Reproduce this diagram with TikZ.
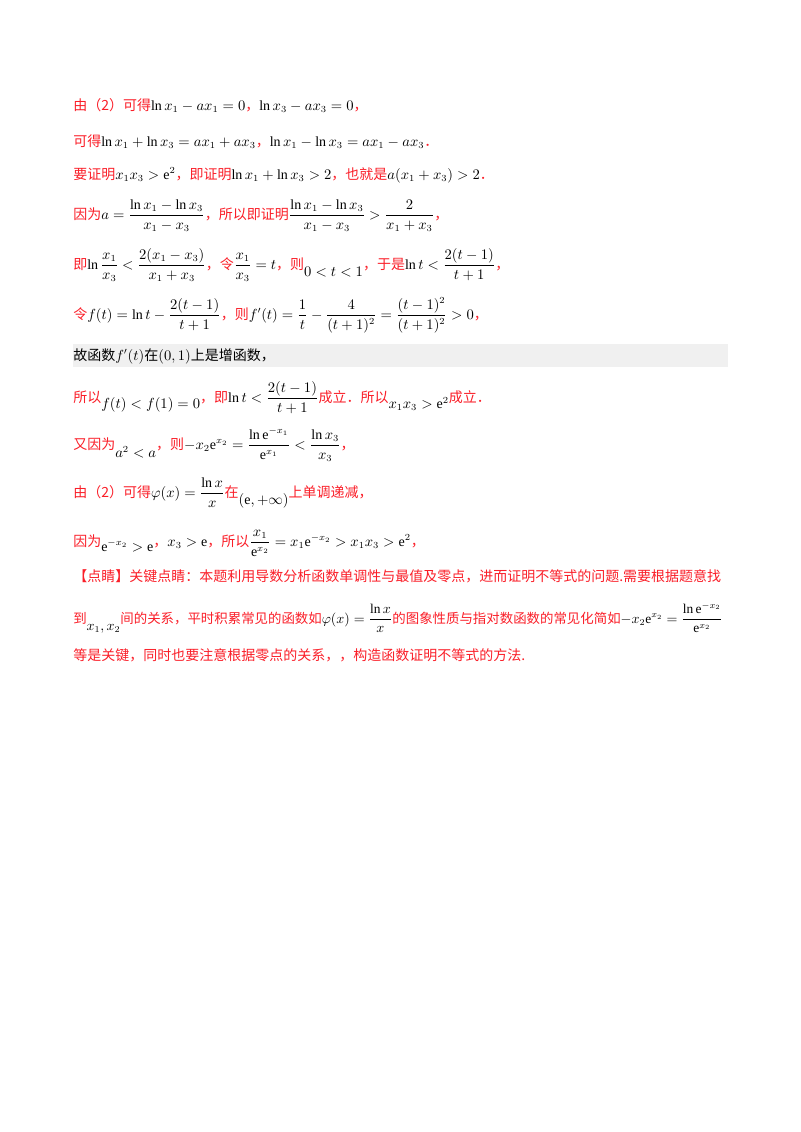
\documentclass[tikz,border=0pt]{standalone}
\usepackage{amsmath}
\usepackage{graphicx}
\usepackage{fontspec}
\setmainfont{Liberation Serif}
\newfontfamily\cjk{Noto Sans CJK SC}
\definecolor{tred}{RGB}{250,30,40}
\newcommand{\R}[1]{{\cjk\color{tred}#1}}
\newcommand{\K}[1]{{\cjk\color{black}#1}}
\tikzset{ln/.style={anchor=base west,inner sep=0pt,font=\fontsize{10.5}{13}\selectfont}}
\begin{document}
\begin{tikzpicture}[x=0.75pt,y=-0.75pt]
\useasboundingbox (0,0) rectangle (800,1132);
\fill[gray!12] (73,344) rectangle (728,367);
\node[ln] (l1) at (73,110) {\R{由（2）可得}$\ln x_1-ax_1=0$\R{，}$\ln x_3-ax_3=0$\R{，}};
\node[ln] (l2) at (73,146) {\R{可得}$\ln x_1+\ln x_3=ax_1+ax_3$\R{，}$\ln x_1-\ln x_3=ax_1-ax_3$\R{．}};
\node[ln] (l3) at (73,179) {\R{要证明}$x_1x_3>\mathrm{e}^2$\R{，即证明}$\ln x_1+\ln x_3>2$\R{，也就是}$a(x_1+x_3)>2$\R{．}};
\node[ln] (l4) at (73,219) {\R{因为}$a=\dfrac{\ln x_1-\ln x_3}{x_1-x_3}$\R{，所以即证明}$\dfrac{\ln x_1-\ln x_3}{x_1-x_3}>\dfrac{2}{x_1+x_3}$\R{，}};
\node[ln] (l5) at (73,269) {\R{即}$\ln\dfrac{x_1}{x_3}<\dfrac{2(x_1-x_3)}{x_1+x_3}$\R{，令}$\dfrac{x_1}{x_3}=t$\R{，则}\raisebox{-1.2ex}{$0<t<1$}\R{，于是}$\ln t<\dfrac{2(t-1)}{t+1}$\R{，}};
\node[ln] (l6) at (73,319) {\R{令}$f(t)=\ln t-\dfrac{2(t-1)}{t+1}$\R{，则}$f'(t)=\dfrac{1}{t}-\dfrac{4}{(t+1)^2}=\dfrac{(t-1)^2}{(t+1)^2}>0$\R{，}};
\node[ln] (l7) at (73,360) {\K{故函数}$f'(t)$\K{在}$(0,1)$\K{上是增函数，}};
\node[ln] (l8) at (73,402) {\R{所以}\raisebox{-1ex}{$f(t)<f(1)=0$}\R{，即}$\ln t<\dfrac{2(t-1)}{t+1}$\R{成立．所以}\raisebox{-1ex}{$x_1x_3>\mathrm{e}^2$}\R{成立．}};
\node[ln] (l9) at (73,449) {\R{又因为}\raisebox{-1.3ex}{$a^2<a$}\R{，则}$-x_2\mathrm{e}^{x_2}=\dfrac{\ln\mathrm{e}^{-x_1}}{\mathrm{e}^{x_1}}<\dfrac{\ln x_3}{x_3}$\R{，}};
\node[ln] (l10) at (73,497) {\R{由（2）可得}$\varphi(x)=\dfrac{\ln x}{x}$\R{在}\raisebox{-1.2ex}{$(\mathrm{e},+\infty)$}\R{上单调递减，}};
\node[ln] (l11) at (73,546) {\R{因为}\raisebox{-0.8ex}{$\mathrm{e}^{-x_2}>\mathrm{e}$}\R{，}$x_3>\mathrm{e}$\R{，所以}$\dfrac{x_1}{\mathrm{e}^{x_2}}=x_1\mathrm{e}^{-x_2}>x_1x_3>\mathrm{e}^2$\R{，}};
\node[ln] (l12) at (73,581) {\R{【点睛】关键点睛：本题利用导数分析函数单调性与最值及零点，进而证明不等式的问题.需要根据题意找}};
\node[ln] (l13) at (73,623) {\resizebox{487pt}{!}{\R{到}\raisebox{-1.2ex}{$x_1,x_2$}\R{间的关系，平时积累常见的函数如}$\varphi(x)=\dfrac{\ln x}{x}$\R{的图象性质与指对数函数的常见化简如}$-x_2\mathrm{e}^{x_2}=\dfrac{\ln\mathrm{e}^{-x_2}}{\mathrm{e}^{x_2}}$}};
\node[ln] (l14) at (73,660) {\R{等是关键，同时也要注意根据零点的关系，，构造函数证明不等式的方法.}};
\end{tikzpicture}
\end{document}
